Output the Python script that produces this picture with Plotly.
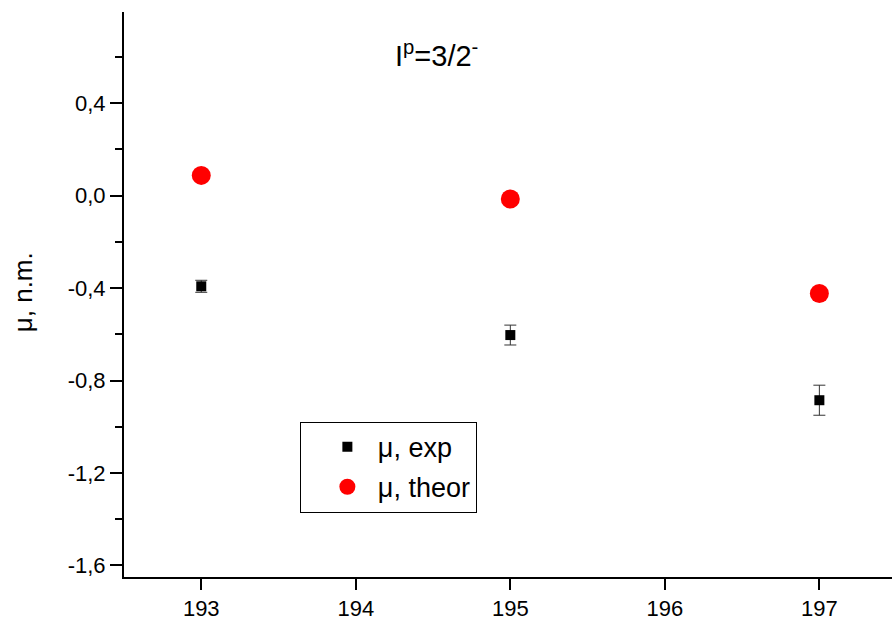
import plotly.graph_objects as go

# Data
mass_numbers = [193, 195, 197]
mu_exp = [-0.392, -0.603, -0.885]
mu_exp_err = [0.026, 0.043, 0.065]
mu_theor = [0.088, -0.014, -0.423]

x_ticks = [193, 194, 195, 196, 197]
y_tickvals = [0.4, 0.0, -0.4, -0.8, -1.2, -1.6]
y_ticktext = ["0,4", "0,0", "-0,4", "-0,8", "-1,2", "-1,6"]
y_minorvals = [0.6, 0.2, -0.2, -0.6, -1.0, -1.4]

FONT = "Arial, Liberation Sans, sans-serif"

fig = go.Figure()
fig.add_trace(go.Scatter(
    x=mass_numbers, y=mu_exp, mode="markers", name="μ, exp",
    legendgroup="exp",
    marker=dict(symbol="square", size=10, color="black"),
    error_y=dict(type="data", array=mu_exp_err, visible=True,
                 color="#333333", thickness=1, width=6),
))
fig.add_trace(go.Scatter(
    x=mass_numbers, y=mu_theor, mode="markers", name="μ, theor",
    legendgroup="theor",
    marker=dict(symbol="circle", size=19, color="#FF0000"),
))

fig.update_layout(
    width=892, height=621,
    margin=dict(l=124, r=0, t=12, b=38),
    paper_bgcolor="white", plot_bgcolor="white",
    font=dict(family=FONT, size=22, color="black"),
    showlegend=True,
    legend=dict(
        x=0.229, y=0.275, xanchor="left", yanchor="top",
        bordercolor="black", borderwidth=1, bgcolor="white",
        font=dict(family=FONT, size=27, color="black"),
        indentation=16, itemwidth=51, tracegroupgap=2,
    ),
    annotations=[
        dict(text="I<sup>p</sup>=3/2<sup>-</sup>", x=(436 - 124) / 768, y=0.925,
             xref="paper", yref="paper", showarrow=False,
             xanchor="center", yanchor="middle",
             font=dict(family=FONT, size=29, color="black")),
        dict(text="μ, n.m.", x=-0.1315, y=0.504, xref="paper", yref="paper",
             textangle=-90, showarrow=False, xanchor="center", yanchor="middle",
             font=dict(family=FONT, size=26, color="black")),
    ],
)

fig.update_xaxes(
    range=[192.5, 197.47], tickmode="array", tickvals=x_ticks,
    ticks="outside", ticklen=11, tickwidth=2, tickcolor="black",
    showline=True, linewidth=2, linecolor="black", mirror=False,
    showgrid=False, zeroline=False,
    tickfont=dict(family=FONT, size=22, color="black"),
)
fig.update_yaxes(
    range=[-1.65, 0.795], tickmode="array", tickvals=y_tickvals, ticktext=y_ticktext,
    ticks="outside", ticklen=12, tickwidth=2, tickcolor="black",
    minor=dict(tickmode="array", tickvals=y_minorvals, ticks="outside",
               ticklen=7, tickwidth=2, tickcolor="black", showgrid=False),
    showline=True, linewidth=2, linecolor="black", mirror=False,
    showgrid=False, zeroline=False,
    tickfont=dict(family=FONT, size=22, color="black"),
)

fig.write_html("out.html")
